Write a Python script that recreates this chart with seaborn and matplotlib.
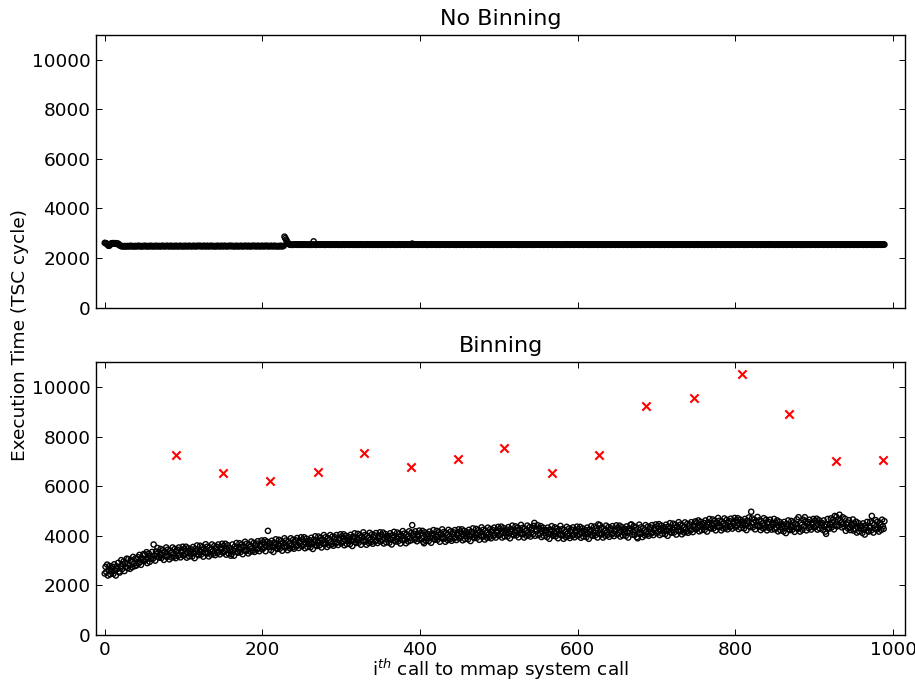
import matplotlib.pyplot as plt
import numpy as np
import pandas as pd
import seaborn as sns


# Execution time (TSC cycles) of each mmap call
NO_BINNING = [
    2610, 2600, 2590, 2560, 2520, 2490, 2500, 2540, 2580, 2590,
    2600, 2580, 2590, 2600, 2570, 2590, 2560, 2580, 2540, 2510,
    2490, 2480, 2470, 2480, 2470, 2480, 2470, 2480, 2470, 2480,
    2480, 2470, 2480, 2490, 2480, 2470, 2480, 2470, 2480, 2480,
    2470, 2480, 2480, 2490, 2480, 2470, 2480, 2480, 2470, 2480,
    2480, 2490, 2480, 2470, 2480, 2480, 2470, 2480, 2490, 2480,
    2470, 2480, 2480, 2470, 2480, 2490, 2480, 2470, 2480, 2480,
    2480, 2470, 2480, 2490, 2480, 2480, 2470, 2480, 2480, 2490,
    2480, 2480, 2470, 2480, 2490, 2480, 2470, 2480, 2480, 2470,
    2490, 2480, 2480, 2470, 2480, 2480, 2490, 2480, 2470, 2480,
    2480, 2470, 2490, 2480, 2480, 2470, 2480, 2490, 2480, 2480,
    2470, 2480, 2480, 2490, 2480, 2470, 2480, 2480, 2490, 2480,
    2480, 2490, 2480, 2470, 2480, 2480, 2490, 2480, 2470, 2480,
    2490, 2480, 2470, 2480, 2480, 2490, 2480, 2480, 2470, 2480,
    2480, 2470, 2480, 2490, 2480, 2480, 2470, 2480, 2490, 2480,
    2470, 2480, 2490, 2480, 2480, 2470, 2480, 2480, 2490, 2480,
    2480, 2490, 2480, 2470, 2480, 2480, 2470, 2490, 2480, 2480,
    2470, 2480, 2480, 2490, 2480, 2470, 2480, 2480, 2490, 2480,
    2480, 2470, 2490, 2480, 2480, 2470, 2480, 2490, 2480, 2480,
    2490, 2480, 2470, 2480, 2490, 2480, 2480, 2470, 2480, 2490,
    2480, 2480, 2470, 2490, 2480, 2480, 2490, 2480, 2470, 2480,
    2480, 2490, 2480, 2470, 2480, 2490, 2480, 2480, 2470, 2480,
    2480, 2470, 2480, 2490, 2480, 2470, 2480, 2490, 2860, 2800,
    2740, 2680, 2620, 2580, 2550, 2540, 2530, 2540, 2530, 2540,
    2530, 2540, 2550, 2540, 2530, 2540, 2540, 2530, 2550, 2540,
    2540, 2530, 2540, 2550, 2540, 2530, 2540, 2540, 2530, 2540,
    2540, 2530, 2540, 2530, 2540, 2670, 2540, 2530, 2540, 2530,
    2540, 2550, 2540, 2530, 2540, 2540, 2550, 2540, 2530, 2540,
    2530, 2540, 2540, 2550, 2540, 2530, 2540, 2540, 2530, 2550,
    2540, 2540, 2530, 2540, 2550, 2540, 2530, 2540, 2540, 2530,
    2540, 2530, 2550, 2540, 2540, 2530, 2540, 2550, 2540, 2540,
    2530, 2540, 2540, 2550, 2540, 2530, 2540, 2540, 2530, 2540,
    2550, 2540, 2530, 2540, 2540, 2550, 2540, 2530, 2540, 2540,
    2540, 2530, 2540, 2550, 2540, 2540, 2530, 2540, 2550, 2540,
    2530, 2540, 2550, 2540, 2530, 2540, 2540, 2530, 2540, 2550,
    2540, 2540, 2530, 2540, 2550, 2540, 2530, 2540, 2540, 2540,
    2550, 2540, 2530, 2540, 2540, 2550, 2540, 2540, 2530, 2540,
    2540, 2530, 2540, 2550, 2540, 2530, 2540, 2540, 2550, 2540,
    2530, 2540, 2550, 2540, 2540, 2530, 2540, 2550, 2540, 2530,
    2580, 2550, 2540, 2530, 2540, 2550, 2540, 2540, 2530, 2540,
    2540, 2550, 2540, 2530, 2540, 2540, 2550, 2540, 2530, 2540,
    2530, 2540, 2540, 2550, 2540, 2530, 2540, 2550, 2540, 2540,
    2540, 2530, 2550, 2540, 2540, 2530, 2540, 2540, 2550, 2540,
    2550, 2540, 2530, 2540, 2540, 2550, 2540, 2530, 2540, 2540,
    2540, 2550, 2540, 2530, 2540, 2540, 2530, 2550, 2540, 2540,
    2530, 2540, 2540, 2550, 2540, 2530, 2540, 2540, 2550, 2540,
    2540, 2530, 2550, 2540, 2540, 2530, 2540, 2550, 2540, 2540,
    2550, 2540, 2530, 2540, 2550, 2540, 2540, 2530, 2540, 2550,
    2540, 2540, 2530, 2550, 2540, 2540, 2550, 2540, 2530, 2540,
    2540, 2550, 2540, 2530, 2540, 2550, 2540, 2540, 2530, 2540,
    2540, 2530, 2540, 2550, 2540, 2530, 2540, 2550, 2540, 2540,
    2530, 2540, 2540, 2550, 2540, 2530, 2540, 2540, 2550, 2540,
    2540, 2550, 2540, 2530, 2540, 2540, 2530, 2550, 2540, 2540,
    2530, 2540, 2540, 2550, 2540, 2530, 2540, 2540, 2550, 2540,
    2540, 2530, 2550, 2540, 2540, 2530, 2540, 2550, 2540, 2540,
    2550, 2540, 2530, 2540, 2550, 2540, 2540, 2530, 2540, 2550,
    2540, 2540, 2530, 2550, 2540, 2540, 2550, 2540, 2530, 2540,
    2540, 2550, 2540, 2530, 2540, 2550, 2540, 2540, 2530, 2540,
    2540, 2530, 2540, 2550, 2540, 2530, 2540, 2550, 2540, 2540,
    2530, 2540, 2540, 2550, 2540, 2530, 2540, 2540, 2550, 2540,
    2550, 2540, 2530, 2540, 2540, 2550, 2540, 2530, 2540, 2540,
    2540, 2550, 2540, 2530, 2540, 2540, 2530, 2550, 2540, 2540,
    2530, 2540, 2540, 2550, 2540, 2530, 2540, 2540, 2550, 2540,
    2540, 2530, 2550, 2540, 2540, 2530, 2540, 2550, 2540, 2540,
    2550, 2540, 2530, 2540, 2550, 2540, 2540, 2530, 2540, 2550,
    2540, 2540, 2530, 2550, 2540, 2540, 2550, 2540, 2530, 2540,
    2540, 2550, 2540, 2530, 2540, 2550, 2540, 2540, 2530, 2540,
    2540, 2530, 2540, 2550, 2540, 2530, 2540, 2550, 2540, 2540,
    2530, 2540, 2540, 2550, 2540, 2530, 2540, 2540, 2550, 2540,
    2550, 2540, 2530, 2540, 2540, 2550, 2540, 2530, 2540, 2540,
    2540, 2550, 2540, 2530, 2540, 2540, 2530, 2550, 2540, 2540,
    2530, 2540, 2540, 2550, 2540, 2530, 2540, 2540, 2550, 2540,
    2540, 2530, 2550, 2540, 2540, 2530, 2540, 2550, 2540, 2540,
    2550, 2540, 2530, 2540, 2550, 2540, 2540, 2530, 2540, 2550,
    2540, 2540, 2530, 2550, 2540, 2540, 2550, 2540, 2530, 2540,
    2540, 2550, 2540, 2530, 2540, 2550, 2540, 2540, 2530, 2540,
    2540, 2530, 2540, 2550, 2540, 2530, 2540, 2550, 2540, 2540,
    2530, 2540, 2540, 2550, 2540, 2530, 2540, 2540, 2550, 2540,
    2550, 2540, 2530, 2540, 2540, 2550, 2540, 2530, 2540, 2540,
    2540, 2550, 2540, 2530, 2540, 2540, 2530, 2550, 2540, 2540,
    2530, 2540, 2540, 2550, 2540, 2530, 2540, 2540, 2550, 2540,
    2540, 2530, 2550, 2540, 2540, 2530, 2540, 2550, 2540, 2540,
    2550, 2540, 2530, 2540, 2550, 2540, 2540, 2530, 2540, 2550,
    2540, 2540, 2530, 2550, 2540, 2540, 2550, 2540, 2530, 2540,
    2540, 2550, 2540, 2530, 2540, 2550, 2540, 2540, 2530, 2540,
    2540, 2530, 2540, 2550, 2540, 2530, 2540, 2550, 2540, 2540,
    2530, 2540, 2540, 2550, 2540, 2530, 2540, 2540, 2550, 2540,
    2550, 2540, 2530, 2540, 2540, 2550, 2540, 2530, 2540, 2540,
    2540, 2550, 2540, 2530, 2540, 2540, 2530, 2550, 2540, 2540,
    2530, 2540, 2540, 2550, 2540, 2530, 2540, 2540, 2550, 2540,
    2540, 2530, 2550, 2540, 2540, 2530, 2540, 2550, 2540, 2540,
    2550, 2540, 2530, 2540, 2550, 2540, 2540, 2530, 2540, 2550,
    2540, 2540, 2530, 2550, 2540, 2540, 2550, 2540, 2530, 2540,
    2540, 2550, 2540, 2530, 2540, 2550, 2540, 2540, 2530, 2540,
    2540, 2530, 2540, 2550, 2540, 2530, 2540, 2550, 2540, 2540,
    2530, 2540, 2540, 2550, 2540, 2530, 2540, 2540, 2550, 2540,
    2550, 2540, 2530, 2540, 2540, 2550, 2540, 2530, 2540, 2540,
    2540, 2550, 2540, 2530, 2540, 2540, 2530, 2550, 2540, 2540,
    2530, 2540, 2540, 2550, 2540, 2530, 2540, 2540, 2550, 2540,
]

BINNING = [
    2480, 2750, 2540, 2840, 2400, 2630, 2780, 2450, 2680, 2570,
    2750, 2470, 2850, 2610, 2400, 2770, 2660, 2910, 2560, 2520,
    2770, 3020, 2660, 2860, 2970, 2580, 2890, 2740, 3080, 2700,
    3060, 2810, 2670, 3030, 2940, 2740, 3150, 2880, 2780, 3090,
    2800, 3060, 3140, 2890, 3230, 2950, 2830, 3100, 3020, 3260,
    2980, 3250, 3040, 3340, 2900, 3130, 3280, 2950, 3180, 3070,
    3350, 3070, 3650, 3210, 3000, 3370, 3260, 3510, 3160, 3120,
    3220, 3470, 3110, 3310, 3420, 3030, 3340, 3190, 3530, 3150,
    3440, 3190, 3050, 3410, 3320, 3120, 3530, 3260, 3160, 3470,
    3100, 3360, 3440, 3190, 3530, 3250, 3130, 3400, 3320, 3560,
    3200, 3470, 3260, 3560, 3120, 3350, 3500, 3170, 3400, 3290,
    3450, 3170, 3550, 3310, 3100, 3470, 3360, 3610, 3260, 3220,
    3350, 3600, 3240, 3440, 3550, 3160, 3470, 3320, 3660, 3280,
    3560, 3310, 3170, 3530, 3440, 3240, 3650, 3380, 3280, 3590,
    3220, 3480, 3560, 3310, 3650, 3370, 3250, 3520, 3440, 3680,
    3320, 3590, 3380, 3680, 3240, 3470, 3620, 3290, 3520, 3410,
    3200, 3270, 3650, 3410, 3200, 3570, 3460, 3710, 3360, 3320,
    3450, 3700, 3340, 3540, 3650, 3260, 3570, 3420, 3760, 3380,
    3680, 3430, 3290, 3650, 3560, 3360, 3770, 3500, 3400, 3710,
    3350, 3610, 3690, 3440, 3780, 3500, 3380, 3650, 3570, 3810,
    3460, 3730, 3520, 3820, 3380, 3610, 3760, 4200, 3660, 3550,
    3700, 3420, 3800, 3560, 3350, 3720, 3610, 3860, 3510, 3470,
    3590, 3840, 3480, 3680, 3790, 3400, 3710, 3560, 3900, 3520,
    3810, 3560, 3420, 3780, 3690, 3490, 3900, 3630, 3530, 3840,
    3480, 3740, 3820, 3570, 3910, 3630, 3510, 3780, 3700, 3940,
    3580, 3850, 3640, 3940, 3500, 3730, 3880, 3550, 3780, 3670,
    3820, 3540, 3920, 3680, 3470, 3840, 3730, 3980, 3630, 3590,
    3720, 3970, 3610, 3810, 3920, 3530, 3840, 3690, 4030, 3650,
    3940, 3690, 3550, 3910, 3820, 3620, 4030, 3760, 3660, 3970,
    3600, 3860, 3940, 3690, 4030, 3750, 3630, 3900, 3820, 4060,
    3700, 3970, 3760, 4060, 3620, 3850, 4000, 3670, 3900, 3790,
    3940, 3660, 4040, 3800, 3590, 3960, 3850, 4100, 3750, 3710,
    3830, 4080, 3720, 3920, 4030, 3640, 3950, 3800, 4140, 3760,
    4030, 3780, 3640, 4000, 3910, 3710, 4120, 3850, 3750, 4060,
    3680, 3940, 4020, 3770, 4110, 3830, 3710, 3980, 3900, 4140,
    3770, 4040, 3830, 4130, 3690, 3920, 4070, 3740, 3970, 3860,
    4000, 3720, 4100, 3860, 3650, 4020, 3910, 4160, 3810, 3770,
    3880, 4130, 3770, 3970, 4080, 3690, 4000, 3850, 4190, 3810,
    4090, 3840, 3700, 4060, 3970, 3770, 4180, 3910, 3810, 4120,
    4430, 4010, 4090, 3840, 4180, 3900, 3780, 4050, 3970, 4210,
    3840, 4110, 3900, 4200, 3760, 3700, 4140, 3810, 4040, 3930,
    4070, 3790, 4170, 3930, 3720, 4090, 3980, 4230, 3880, 3840,
    3950, 4200, 3840, 4040, 4150, 3760, 4070, 3920, 4260, 3880,
    4150, 3900, 3760, 4120, 4030, 3830, 4240, 3970, 3870, 4180,
    3800, 4060, 4140, 3890, 4230, 3950, 3830, 4100, 4020, 4260,
    3900, 4170, 3960, 4260, 3820, 4050, 4200, 3870, 4100, 3990,
    4140, 3860, 4240, 4000, 3790, 4160, 4050, 4300, 3950, 3910,
    4030, 4280, 3920, 4120, 4230, 3840, 4150, 4000, 4340, 3960,
    4240, 3990, 3850, 4210, 4120, 3920, 4330, 4060, 3960, 4270,
    3900, 4160, 4240, 3990, 4330, 4050, 3930, 4200, 4120, 4360,
    4010, 4280, 4070, 4370, 3930, 4160, 4310, 3980, 4210, 4100,
    4250, 3970, 4350, 4110, 3900, 4270, 4160, 4410, 4060, 4020,
    4130, 4380, 4020, 4220, 4330, 3940, 4250, 4100, 4440, 4060,
    4320, 4070, 3930, 4290, 4200, 4000, 4410, 4140, 4040, 4350,
    3970, 4230, 4310, 4060, 4400, 4520, 4000, 4270, 4190, 4430,
    4030, 4300, 4090, 4390, 3950, 4180, 4330, 4000, 4230, 4120,
    4230, 3950, 4330, 4090, 3880, 4250, 4140, 4390, 4040, 4000,
    4090, 4340, 3980, 4180, 4290, 3900, 4210, 4060, 4400, 4020,
    4270, 4020, 3880, 4240, 4150, 3950, 4360, 4090, 3990, 4300,
    3910, 4170, 4250, 4000, 4340, 4060, 3940, 4210, 4130, 4370,
    4000, 4270, 4060, 4360, 3920, 4150, 4300, 3970, 4200, 4090,
    4230, 3950, 4330, 4090, 3880, 4250, 4140, 4390, 4040, 4000,
    4120, 4370, 4010, 4210, 4320, 3930, 4460, 4090, 4430, 4050,
    4320, 4070, 3930, 4290, 4200, 4000, 4410, 4140, 4040, 4350,
    3960, 4220, 4300, 4050, 4390, 4110, 3990, 4260, 4180, 4420,
    4050, 4320, 4110, 4410, 3970, 4200, 4350, 4020, 4250, 4140,
    4280, 4000, 4380, 4140, 3930, 4300, 4190, 4440, 4460, 4050,
    4140, 4390, 4030, 4230, 4340, 3950, 3900, 4110, 4450, 4070,
    4340, 4090, 3950, 4310, 4220, 4020, 4430, 4160, 4060, 4370,
    4000, 4260, 4340, 4090, 4430, 4150, 4030, 4300, 4220, 4460,
    4110, 4380, 4170, 4470, 4030, 4260, 4410, 4080, 4310, 4200,
    4350, 4070, 4450, 4210, 4000, 4370, 4260, 4510, 4160, 4120,
    4240, 4490, 4130, 4330, 4440, 4050, 4360, 4210, 4550, 4170,
    4450, 4200, 4060, 4420, 4330, 4130, 4540, 4270, 4170, 4480,
    4120, 4380, 4460, 4210, 4550, 4270, 4150, 4420, 4340, 4580,
    4260, 4530, 4320, 4620, 4180, 4410, 4560, 4230, 4460, 4350,
    4520, 4240, 4620, 4380, 4170, 4540, 4430, 4680, 4330, 4290,
    4410, 4660, 4300, 4500, 4610, 4220, 4530, 4380, 4720, 4340,
    4610, 4360, 4220, 4580, 4490, 4290, 4700, 4430, 4330, 4640,
    4260, 4520, 4600, 4350, 4690, 4410, 4290, 4560, 4480, 4720,
    4350, 4620, 4410, 4710, 4270, 4500, 4650, 4320, 4550, 4440,
    4580, 4300, 4680, 4440, 4230, 4600, 4490, 4740, 4390, 4350,
    4970, 4700, 4340, 4540, 4650, 4260, 4570, 4420, 4760, 4380,
    4620, 4370, 4230, 4590, 4500, 4300, 4710, 4440, 4340, 4650,
    4220, 4480, 4560, 4310, 4650, 4370, 4250, 4520, 4440, 4680,
    4260, 4530, 4320, 4620, 4180, 4410, 4560, 4230, 4460, 4350,
    4460, 4180, 4560, 4320, 4110, 4480, 4370, 4620, 4270, 4230,
    4350, 4600, 4240, 4440, 4550, 4160, 4470, 4320, 4660, 4280,
    4750, 4310, 4170, 4530, 4440, 4240, 4650, 4380, 4750, 4590,
    4220, 4480, 4560, 4310, 4650, 4370, 4250, 4520, 4440, 4680,
    4330, 4600, 4390, 4690, 4250, 4480, 4630, 4300, 4530, 4420,
    4520, 4240, 4620, 4380, 4170, 4080, 4430, 4680, 4330, 4290,
    4450, 4700, 4340, 4540, 4650, 4260, 4800, 4420, 4760, 4380,
    4660, 4410, 4850, 4630, 4540, 4340, 4750, 4480, 4380, 4690,
    4200, 4460, 4540, 4290, 4630, 4350, 4230, 4500, 4420, 4660,
    4210, 4480, 4270, 4570, 4130, 4360, 4510, 4180, 4410, 4300,
    4400, 4120, 4500, 4260, 4050, 4420, 4310, 4560, 4210, 4170,
    4320, 4570, 4210, 4800, 4520, 4130, 4440, 4290, 4630, 4250,
    4560, 4310, 4170, 4530, 4440, 4240, 4650, 4380, 4280, 4590,
]

# Red crosses: one per bin, placed at the bin's call index
BIN_CALLS = [91, 150, 210, 270, 329, 388, 448, 507, 567, 627, 687, 747, 808, 868, 928, 987]
BIN_TIMES = [7260, 6520, 6210, 6560, 7350, 6760, 7080, 7540, 6540, 7250,
             9220, 9540, 10540, 8910, 7000, 7060]

X_TICKS = [0, 200, 400, 600, 800, 1000]
Y_TICKS = [0, 2000, 4000, 6000, 8000, 10000]


def draw_calls(ax, times, title):
    calls = pd.DataFrame({"call": np.arange(len(times)), "time": times})
    sns.scatterplot(
        data=calls,
        x="call",
        y="time",
        ax=ax,
        marker="o",
        s=14,
        facecolors="none",
        edgecolor="black",
        linewidth=1.0,
    )
    ax.set_title(title, fontsize=16, pad=7)
    ax.set_xlim(-11, 1015)
    ax.set_ylim(0, 11000)
    ax.set_xticks(X_TICKS)
    ax.set_yticks(Y_TICKS)
    ax.set_xlabel("")
    ax.set_ylabel("")


def main() -> None:
    sns.set_theme(style="white")
    plt.rcParams.update({
        "font.family": ["DejaVu Sans"],
        "font.size": 13.3,
        "text.color": "black",
        "axes.edgecolor": "black",
        "axes.linewidth": 1.0,
        "axes.labelcolor": "black",
        "xtick.color": "black",
        "ytick.color": "black",
        "xtick.labelsize": 13.3,
        "ytick.labelsize": 13.3,
        "xtick.direction": "in",
        "ytick.direction": "in",
        "xtick.top": True,
        "ytick.right": True,
        "xtick.bottom": True,
        "ytick.left": True,
        "xtick.major.size": 4.5,
        "ytick.major.size": 4.5,
        "xtick.major.width": 0.7,
        "ytick.major.width": 0.7,
        "xtick.major.pad": 4,
        "ytick.major.pad": 4,
        "mathtext.fontset": "dejavusans",
    })

    fig, (ax_top, ax_bottom) = plt.subplots(2, 1, figsize=(9.15, 6.81), dpi=100, sharex=True)
    fig.subplots_adjust(left=0.105, right=0.989, bottom=0.0675, top=0.949, hspace=0.2)

    draw_calls(ax_top, NO_BINNING, "No Binning")
    draw_calls(ax_bottom, BINNING, "Binning")

    bins = pd.DataFrame({"call": BIN_CALLS, "time": BIN_TIMES})
    sns.scatterplot(
        data=bins,
        x="call",
        y="time",
        ax=ax_bottom,
        marker="x",
        s=36,
        color="red",
        linewidth=1.5,
    )
    ax_bottom.set_xlabel("i$^{th}$ call to mmap system call", fontsize=13.3, labelpad=-1)
    ax_bottom.set_ylabel("")
    ax_top.tick_params(labelbottom=False)

    fig.text(0.022, 0.508, "Execution Time (TSC cycle)", rotation=90,
             ha="center", va="center", fontsize=13.3)

    fig.savefig("out.png", dpi=100)
    plt.close(fig)


if __name__ == "__main__":
    main()
